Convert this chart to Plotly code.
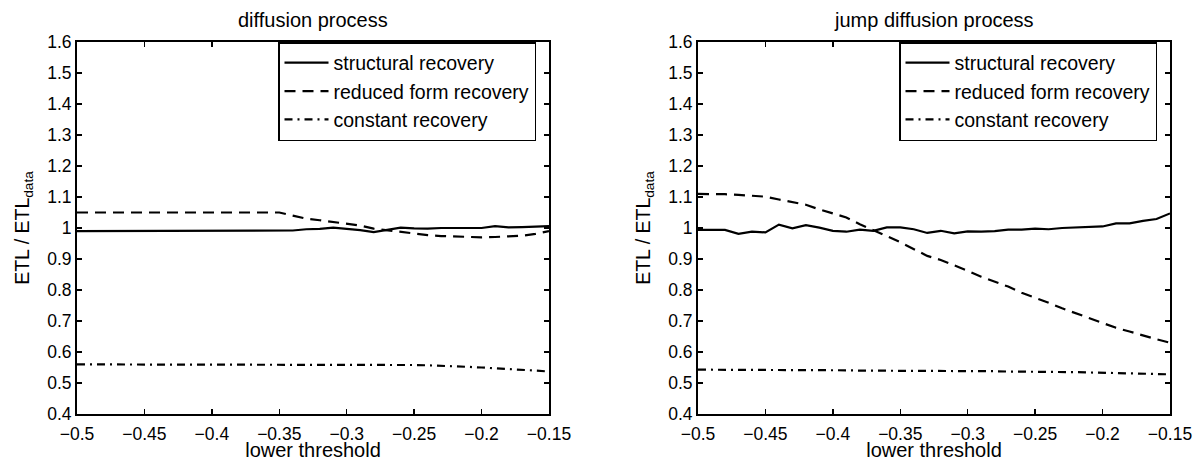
import plotly.graph_objects as go

# ---------------- data ----------------
thresholds = [-0.50, -0.49, -0.48, -0.47, -0.46, -0.45, -0.44, -0.43, -0.42, -0.41,
              -0.40, -0.39, -0.38, -0.37, -0.36, -0.35, -0.34, -0.33, -0.32, -0.31,
              -0.30, -0.29, -0.28, -0.27, -0.26, -0.25, -0.24, -0.23, -0.22, -0.21,
              -0.20, -0.19, -0.18, -0.17, -0.16, -0.15]

diff_structural = [0.99, 0.99, 0.99, 0.99, 0.99, 0.99, 0.99, 0.99, 0.99, 0.99,
                   0.99, 0.99, 0.99, 0.99, 0.99, 0.99, 0.992, 0.996, 0.997, 1.001,
                   0.998, 0.993, 0.987, 0.994, 1.001, 0.999, 0.998, 1.0, 1.0, 0.999,
                   1.0, 1.006, 1.002, 1.003, 1.005, 1.006]
diff_reduced = [1.05, 1.05, 1.05, 1.05, 1.05, 1.05, 1.05, 1.05, 1.05, 1.05,
                1.05, 1.05, 1.05, 1.05, 1.05, 1.05, 1.04, 1.03, 1.025, 1.02,
                1.014, 1.008, 0.998, 0.993, 0.987, 0.981, 0.977, 0.974, 0.972, 0.97,
                0.97, 0.971, 0.972, 0.975, 0.981, 0.99]
diff_constant = [0.56, 0.56, 0.56, 0.56, 0.56, 0.56, 0.56, 0.56, 0.56, 0.56,
                 0.56, 0.56, 0.56, 0.56, 0.56, 0.56, 0.56, 0.56, 0.56, 0.56,
                 0.56, 0.56, 0.56, 0.56, 0.559, 0.558, 0.557, 0.556, 0.554, 0.552,
                 0.55, 0.548, 0.546, 0.543, 0.54, 0.537]

jump_structural = [0.994, 0.994, 0.994, 0.981, 0.988, 0.986, 1.011, 0.999, 1.009, 1.001,
                   0.991, 0.988, 0.995, 0.991, 1.002, 1.002, 0.996, 0.984, 0.991, 0.983,
                   0.989, 0.988, 0.99, 0.995, 0.995, 0.998, 0.996, 1.0, 1.002, 1.002,
                   1.005, 1.015, 1.015, 1.023, 1.029, 1.047]
jump_reduced = [1.11, 1.11, 1.109, 1.107, 1.104, 1.101, 1.092, 1.084, 1.075, 1.06,
                1.047, 1.034, 1.012, 0.994, 0.974, 0.954, 0.933, 0.91, 0.897, 0.88,
                0.862, 0.843, 0.828, 0.811, 0.791, 0.776, 0.759, 0.741, 0.725, 0.709,
                0.692, 0.678, 0.666, 0.653, 0.641, 0.63]
jump_constant = [0.543, 0.543, 0.543, 0.543, 0.542, 0.542, 0.542, 0.542, 0.541, 0.541,
                 0.541, 0.541, 0.540, 0.540, 0.540, 0.540, 0.539, 0.539, 0.539, 0.539,
                 0.538, 0.538, 0.538, 0.537, 0.537, 0.536, 0.536, 0.535, 0.535, 0.534,
                 0.533, 0.533, 0.532, 0.531, 0.530, 0.528]

series_names = ["structural recovery", "reduced form recovery", "constant recovery"]
panel_titles = ["diffusion process", "jump diffusion process"]

x_tickvals = [-0.5, -0.45, -0.4, -0.35, -0.3, -0.25, -0.2, -0.15]
x_ticktext = ["\u22120.5", "\u22120.45", "\u22120.4", "\u22120.35", "\u22120.3",
              "\u22120.25", "\u22120.2", "\u22120.15"]
y_tickvals = [0.4, 0.5, 0.6, 0.7, 0.8, 0.9, 1.0, 1.1, 1.2, 1.3, 1.4, 1.5, 1.6]
y_ticktext = ["0.4", "0.5", "0.6", "0.7", "0.8", "0.9", "1", "1.1", "1.2", "1.3",
              "1.4", "1.5", "1.6"]

# ---------------- figure ----------------
FONT = "Liberation Sans, Arial, Helvetica, sans-serif"
W, H = 1194, 461


def px(p):
    """page x pixel -> paper fraction"""
    return p / W


def py(p):
    """page y pixel (from top) -> paper fraction"""
    return (H - p) / H


dashes = ["solid", "11px,7px", "8px,5px,2px,5px"]

fig = go.Figure()
panels = [
    ("x", "y", "legend", [diff_structural, diff_reduced, diff_constant]),
    ("x2", "y2", "legend2", [jump_structural, jump_reduced, jump_constant]),
]
for xa, ya, lg, ys in panels:
    for name, yv, dash in zip(series_names, ys, dashes):
        fig.add_trace(go.Scatter(
            x=thresholds, y=yv, name=name, mode="lines",
            line=dict(color="black", width=2.2, dash=dash),
            xaxis=xa, yaxis=ya, legend=lg, hoverinfo="skip",
        ))

axis_common = dict(
    showline=True, linecolor="black", linewidth=2, mirror="ticks",
    ticks="inside", ticklen=5, tickwidth=1.5, tickcolor="black",
    showgrid=False, zeroline=False, automargin=False,
    tickfont=dict(family=FONT, size=17.5, color="black"),
)

xdom1 = [px(77), px(549)]
xdom2 = [px(698), px(1170)]
ydom = [py(414), py(42)]

for i, (xd, xk, yk, anchor_x, anchor_y) in enumerate(
        [(xdom1, "xaxis", "yaxis", "y", "x"), (xdom2, "xaxis2", "yaxis2", "y2", "x2")]):
    fig.layout[xk] = dict(
        domain=xd, anchor=anchor_x, range=[-0.5, -0.15],
        tickvals=x_tickvals, ticktext=x_ticktext, ticklabelstandoff=3,
        title=dict(text="lower threshold", font=dict(family=FONT, size=20, color="black"),
                   standoff=0),
        **axis_common,
    )
    fig.layout[yk] = dict(
        domain=ydom, anchor=anchor_y, range=[0.4, 1.6],
        tickvals=y_tickvals, ticktext=y_ticktext,
        title=dict(text="ETL / ETL<sub>data</sub>",
                   font=dict(family=FONT, size=19.5, color="black"), standoff=12),
        **axis_common,
    )
    fig.add_annotation(
        text=panel_titles[i], x=(xd[0] + xd[1]) / 2, y=py(20),
        xref="paper", yref="paper", showarrow=False, xanchor="center", yanchor="middle",
        font=dict(family=FONT, size=20, color="black"),
    )

legend_common = dict(
    bgcolor="white", bordercolor="black", borderwidth=1.5,
    font=dict(family=FONT, size=19.5, color="black"),
    xanchor="left", yanchor="top", tracegroupgap=0, itemwidth=44,
    y=py(42),
)
fig.update_layout(
    width=W, height=H,
    margin=dict(l=0, r=0, t=0, b=0, autoexpand=False),
    paper_bgcolor="white", plot_bgcolor="white",
    font=dict(family=FONT, color="black"),
    showlegend=True,
    hovermode=False,
    legend=dict(x=px(278), **legend_common),
    legend2=dict(x=px(899), **legend_common),
)

fig.write_html(
    "out.html",
    config={"displayModeBar": False, "staticPlot": True},
    post_script="document.body.style.margin='0px';document.body.style.overflow='hidden';",
)
